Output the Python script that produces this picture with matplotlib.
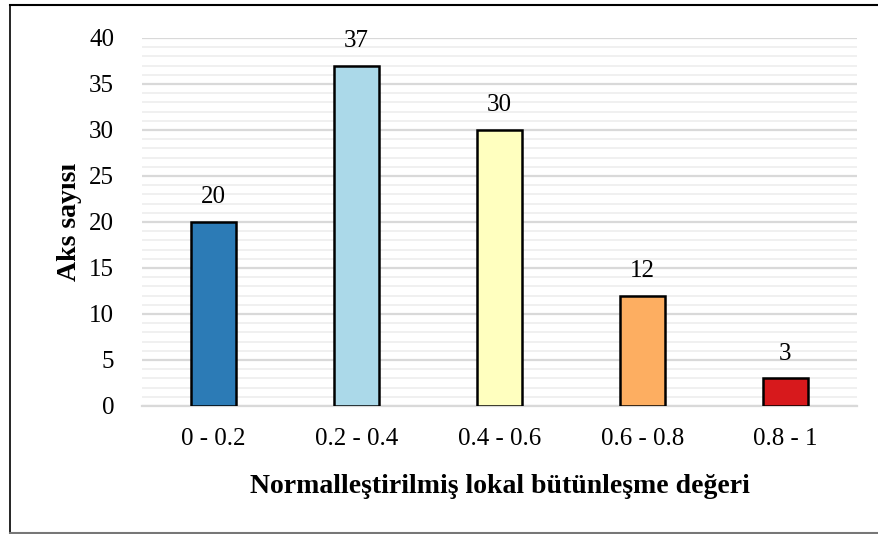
import matplotlib.pyplot as plt
import numpy as np
from matplotlib.lines import Line2D

categories = ["0 - 0.2", "0.2 - 0.4", "0.4 - 0.6", "0.6 - 0.8", "0.8 - 1"]
counts = [20, 37, 30, 12, 3]
colors = ["#2C7BB6", "#ABD9E9", "#FFFFBF", "#FDAE61", "#D7191C"]

plt.rcParams["font.family"] = ["Liberation Serif", "DejaVu Serif"]

fig = plt.figure(figsize=(8.79, 5.34), dpi=100)
ax = fig.add_axes([142 / 879, 1 - 406 / 534, 715 / 879, 368 / 534])

x = np.arange(len(categories))
bars = ax.bar(x, counts, width=0.32, color=colors, edgecolor="black", linewidth=1.8, zorder=3)
for b, v in zip(bars, counts):
    ax.annotate(str(v), (b.get_x() + b.get_width() / 2, v), xytext=(0, 10),
                textcoords="offset points", ha="center", va="bottom", fontsize=18)

ax.set_xlim(-0.5, 4.5)
ax.set_ylim(0, 40)
ax.set_yticks(np.arange(0, 41, 5))
ax.set_yticks(np.arange(0, 41, 1), minor=True)
ax.set_xticks(x)
ax.set_xticklabels(categories)
ax.tick_params(axis="both", length=0, labelsize=18)
ax.tick_params(axis="y", which="minor", length=0)
ax.tick_params(axis="y", pad=20)
ax.tick_params(axis="x", pad=16)

ax.grid(axis="y", which="major", color="#d9d9d9", linewidth=1.6, zorder=0)
ax.grid(axis="y", which="minor", color="#f0f0f0", linewidth=1.4, zorder=0)
for s in ["top", "right", "left"]:
    ax.spines[s].set_visible(False)
ax.spines["bottom"].set_color("#d9d9d9")
ax.spines["bottom"].set_linewidth(1.6)

ax.set_ylabel("Aks sayısı", fontsize=20, fontweight="bold", labelpad=5)
ax.set_xlabel("Normalleştirilmiş lokal bütünleşme değeri", fontsize=20,
              fontweight="bold", labelpad=17)

# outer frame (left, top, bottom)
fw, fh = 879, 534
fig.add_artist(Line2D([9.5 / fw, 9.5 / fw], [1.5 / fh, 1 - 4.5 / fh], color="black", lw=1.2))
fig.add_artist(Line2D([9.5 / fw, 1], [1 - 4.5 / fh, 1 - 4.5 / fh], color="black", lw=1.5))
fig.add_artist(Line2D([9.5 / fw, 1], [1.5 / fh, 1.5 / fh], color="#777777", lw=1.5))

fig.savefig("out.png", dpi=100)
